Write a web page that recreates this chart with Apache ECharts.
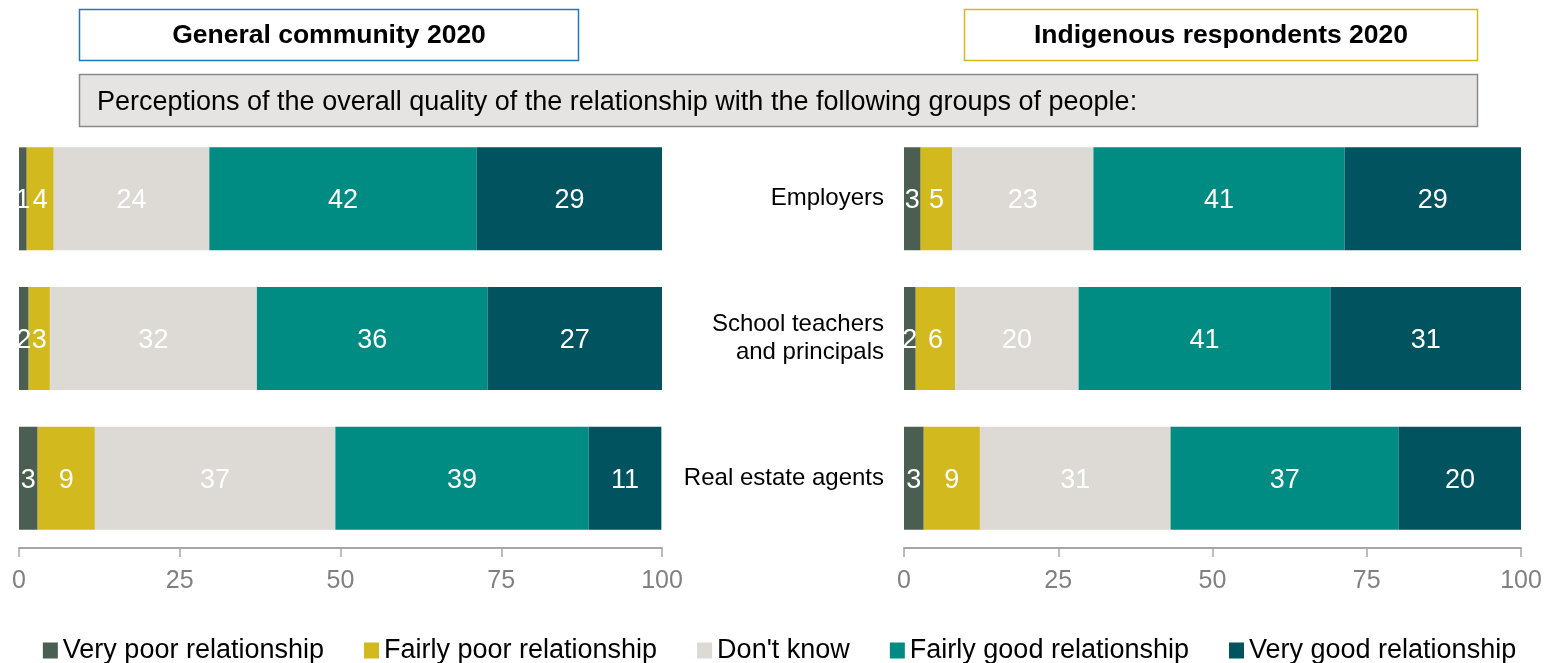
<!DOCTYPE html>
<html>
<head>
<meta charset="utf-8">
<script src="https://cdn.jsdelivr.net/npm/echarts@6/dist/echarts.min.js"></script>
<style>
html,body{margin:0;padding:0;background:#fff;}
#chart{width:1559px;height:663px;}
</style>
</head>
<body>
<div id="chart"></div>
<script>
// ---- Data ----
const categories = ['Employers', 'School teachers\nand principals', 'Real estate agents'];
const seriesNames = ['Very poor relationship', 'Fairly poor relationship', "Don't know", 'Fairly good relationship', 'Very good relationship'];
const xTicks = [0, 25, 50, 75, 100];

// General community 2020
const genVeryPoor   = [1.2, 1.5, 2.9];
const genFairlyPoor = [4.2, 3.3, 8.9];
const genDontKnow   = [24.2, 32.2, 37.4];
const genFairlyGood = [41.6, 35.9, 39.4];
const genVeryGood   = [28.8, 27.1, 11.3];

// Indigenous respondents 2020
const indVeryPoor   = [2.7, 1.9, 3.2];
const indFairlyPoor = [5.1, 6.4, 9.1];
const indDontKnow   = [22.9, 20.0, 30.9];
const indFairlyGood = [40.7, 40.8, 37.0];
const indVeryGood   = [28.6, 30.9, 19.8];

const titleLeft = 'General community 2020';
const titleRight = 'Indigenous respondents 2020';
const subtitle = 'Perceptions of the overall quality of the relationship with the following groups of people:';

// ---- Styles ----
const colors = ['#4a5f52', '#d1b91e', '#ddd9d5', '#008c82', '#00535f'];
const FONT = '"Liberation Sans", Arial, sans-serif';

const genData = [genVeryPoor, genFairlyPoor, genDontKnow, genFairlyGood, genVeryGood];
const indData = [indVeryPoor, indFairlyPoor, indDontKnow, indFairlyGood, indVeryGood];

function makeSeries(dataSets, axisIdx) {
  return dataSets.map((d, i) => ({
    name: seriesNames[i],
    type: 'bar',
    stack: 'total' + axisIdx,
    xAxisIndex: axisIdx,
    yAxisIndex: axisIdx,
    barWidth: 103,
    data: d,
    itemStyle: { color: colors[i] },
    label: {
      show: true,
      position: 'inside',
      color: '#ffffff',
      fontFamily: FONT,
      fontSize: 27,
      offset: [0, 2],
      formatter: p => String(Math.round(p.value))
    },
    emphasis: { disabled: true },
    animation: false
  }));
}

const xAxisCommon = {
  type: 'value',
  min: 0, max: 100, interval: 25,
  splitLine: { show: false },
  axisLine: { show: true, lineStyle: { color: '#a6a6a6', width: 2 } },
  axisTick: { show: true, length: 9, lineStyle: { color: '#a6a6a6', width: 1.5 } },
  axisLabel: { color: '#808080', fontFamily: FONT, fontSize: 25, margin: 21,
    formatter: v => xTicks.includes(v) ? String(v) : '' }
};

const option = {
  animation: false,
  backgroundColor: '#ffffff',
  color: colors,
  legend: {
    data: seriesNames,
    left: 'center',
    top: 632,
    icon: 'rect',
    itemWidth: 15,
    itemHeight: 16,
    itemGap: 40,
    textStyle: { color: '#000', fontFamily: FONT, fontSize: 27 },
    selectedMode: false
  },
  grid: [
    { left: 19, width: 643, top: 129, height: 419, containLabel: false },
    { left: 904, width: 617, top: 129, height: 419, containLabel: false }
  ],
  xAxis: [
    Object.assign({ gridIndex: 0 }, xAxisCommon),
    Object.assign({ gridIndex: 1 }, xAxisCommon)
  ],
  yAxis: [
    { type: 'category', gridIndex: 0, data: categories, inverse: true,
      axisLine: { show: false }, axisTick: { show: false }, axisLabel: { show: false } },
    { type: 'category', gridIndex: 1, data: categories, inverse: true,
      axisLine: { show: false }, axisTick: { show: false },
      axisLabel: { show: true, color: '#000', fontFamily: FONT, fontSize: 24, margin: 20,
        lineHeight: 28, align: 'right', padding: [3, 0, 0, 0] } }
  ],
  series: makeSeries(genData, 0).concat(makeSeries(indData, 1)),
  graphic: [
    { type: 'rect', shape: { x: 79.5, y: 9.5, width: 499, height: 51 },
      style: { fill: '#fff', stroke: '#2277c3', lineWidth: 1.5 } },
    { type: 'text', x: 329, y: 36,
      style: { text: titleLeft, fill: '#000', font: 'bold 26.5px ' + FONT, textAlign: 'center', textVerticalAlign: 'middle' } },
    { type: 'rect', shape: { x: 964.5, y: 9.5, width: 513, height: 51 },
      style: { fill: '#fff', stroke: '#d1b91e', lineWidth: 1.5 } },
    { type: 'text', x: 1221, y: 36,
      style: { text: titleRight, fill: '#000', font: 'bold 26.5px ' + FONT, textAlign: 'center', textVerticalAlign: 'middle' } },
    { type: 'rect', shape: { x: 79.5, y: 74.5, width: 1398, height: 52 },
      style: { fill: '#e6e4e2', stroke: '#8a8a8a', lineWidth: 1.5 } },
    { type: 'text', x: 97, y: 103,
      style: { text: subtitle, fill: '#000', font: '27px ' + FONT, textAlign: 'left', textVerticalAlign: 'middle' } }
  ]
};

const chart = echarts.init(document.getElementById('chart'), null, { renderer: 'canvas' });
chart.setOption(option);
</script>
</body>
</html>
